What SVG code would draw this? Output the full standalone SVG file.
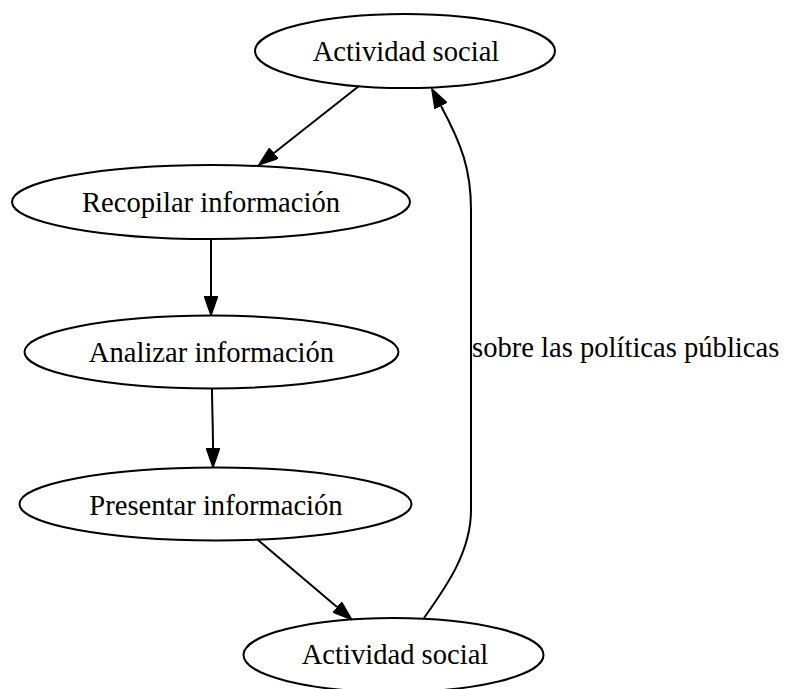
<svg xmlns="http://www.w3.org/2000/svg" width="787" height="689" viewBox="0 0 787 689">
<style>
.n ellipse{fill:none;stroke:#000;stroke-width:2}
text{font-family:"Liberation Serif","Times New Roman",serif;font-size:28.6px;fill:#000}
.n text{text-anchor:middle}
.e path{fill:none;stroke:#000;stroke-width:2;marker-end:url(#ah)}
</style>
<defs>
<marker id="ah" markerUnits="userSpaceOnUse" viewBox="0 0 20 14" markerWidth="20" markerHeight="14" refX="0" refY="7" orient="auto">
<path d="M0,0 L20,7 L0,14 z" fill="#000" stroke="#000" stroke-width="1"/>
</marker>
</defs>
<rect width="787" height="689" fill="#fff"/>
<g id="edges" class="e">
<path d="M359,86 L274,153"/>
<path d="M211,238 L211,296"/>
<path d="M212,388 C212,405 213,425 213,448"/>
<path d="M258,540 L337,607"/>
<path d="M424,618 C446,587 471,552 471,510 L471,210 C471,170 462,145 441,106"/>
<text x="472" y="357">sobre las políticas públicas</text>
</g>
<g id="n1" class="n"><ellipse cx="405" cy="51" rx="150" ry="37"/><text x="406" y="61">Actividad social</text></g>
<g id="n2" class="n"><ellipse cx="211" cy="202" rx="199" ry="37"/><text x="211" y="212">Recopilar información</text></g>
<g id="n3" class="n"><ellipse cx="211.5" cy="352" rx="187" ry="36.5"/><text x="211.5" y="362">Analizar información</text></g>
<g id="n4" class="n"><ellipse cx="215.5" cy="504" rx="196" ry="36.5"/><text x="216" y="515">Presentar información</text></g>
<g id="n5" class="n"><ellipse cx="393.5" cy="655" rx="150" ry="37"/><text x="395" y="664">Actividad social</text></g>
</svg>
